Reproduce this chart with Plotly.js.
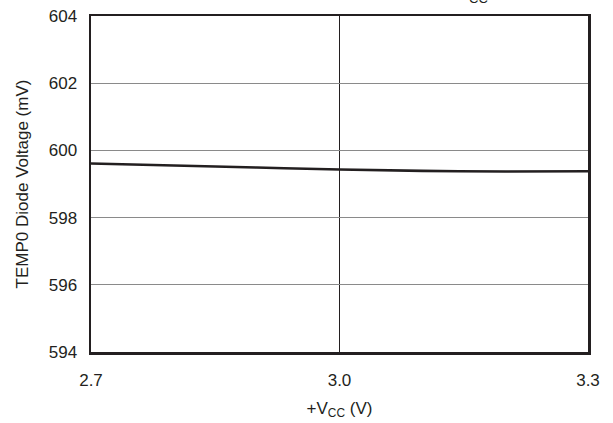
<!DOCTYPE html>
<html>
<head>
<meta charset="utf-8">
<script src="https://cdn.plot.ly/plotly-3.0.1.min.js"></script>
<style>html,body{margin:0;padding:0;background:#fff;}#chart{width:613px;height:423px;}</style>
</head>
<body>
<div id="chart"></div>
<script>
const vcc = [2.7, 2.8, 2.9, 3.0, 3.1, 3.2, 3.3];
const diodeVoltage = [599.61, 599.55, 599.49, 599.43, 599.39, 599.37, 599.38];
const xTicks = [2.7, 3.0, 3.3];
const xTickLabels = ['2.7', '3.0', '3.3'];
const yTicks = [594, 596, 598, 600, 602, 604];

const trace = {
  x: vcc, y: diodeVoltage, type: 'scatter', mode: 'lines',
  line: {color: '#231f20', width: 2.6, shape: 'spline'},
  hoverinfo: 'skip'
};

const font = {family: 'Liberation Sans, Arial, sans-serif', size: 17, color: '#231f20'};

const layout = {
  width: 613, height: 423,
  margin: {l: 91, r: 25, t: 16, b: 71},
  paper_bgcolor: '#fff', plot_bgcolor: '#fff',
  showlegend: false,
  font: font,
  xaxis: {
    range: [2.7, 3.3], tickvals: xTicks, ticktext: xTickLabels,
    showgrid: true, gridcolor: '#231f20', gridwidth: 1,
    zeroline: false, showline: true, mirror: true, linecolor: '#231f20', linewidth: 2.5,
    ticks: 'outside', ticklen: 11, tickcolor: 'rgba(0,0,0,0)',
    tickfont: font,
    title: {text: '+V<sub>CC</sub> (V)', font: font, standoff: 13}
  },
  yaxis: {
    range: [594, 604], tickvals: yTicks,
    showgrid: true, gridcolor: '#8a8a8a', gridwidth: 1,
    zeroline: false, showline: true, mirror: true, linecolor: '#231f20', linewidth: 2.5,
    ticks: 'outside', ticklen: 8, tickcolor: 'rgba(0,0,0,0)',
    tickfont: font,
    title: {text: 'TEMP0 Diode Voltage (mV)', font: font, standoff: 16}
  },
  annotations: [{
    text: 'CC', xref: 'paper', yref: 'paper', x: 0.78, y: 1.0, yshift: 18,
    yanchor: 'middle', xanchor: 'center', showarrow: false,
    font: {family: 'Liberation Sans, Arial, sans-serif', size: 13, color: '#231f20'}
  }]
};

Plotly.newPlot('chart', [trace], layout, {displayModeBar: false, staticPlot: true});
</script>
</body>
</html>
